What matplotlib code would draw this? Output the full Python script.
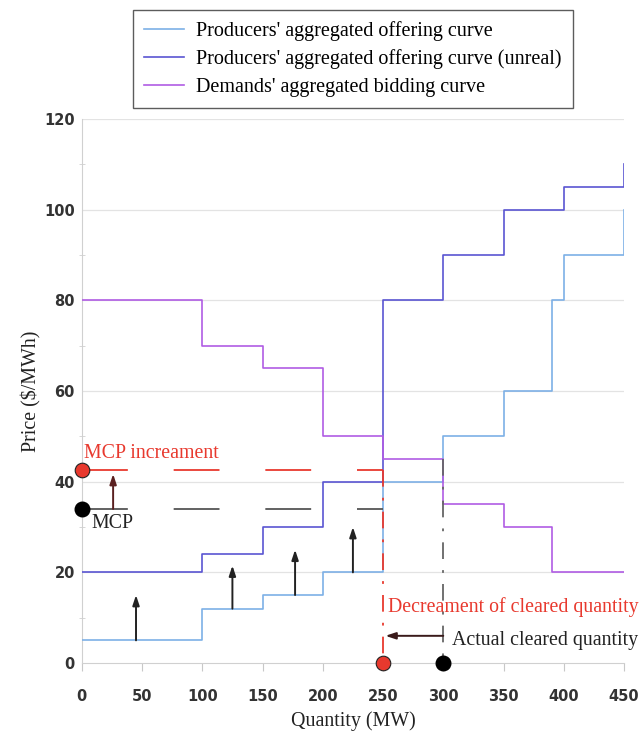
import matplotlib
matplotlib.use("Agg")
import matplotlib.pyplot as plt
from matplotlib.lines import Line2D

plt.rcParams['lines.scale_dashes'] = False

# ---- data ----
supply_x = [0, 100, 150, 200, 250, 300, 350, 390, 400, 450, 450]
supply_y = [5, 12, 15, 20, 40, 50, 60, 80, 90, 90, 100]

unreal_x = [0, 100, 150, 200, 250, 300, 350, 400, 450, 450]
unreal_y = [20, 24, 30, 40, 80, 90, 100, 105, 105, 110]

demand_x = [0, 100, 150, 200, 250, 300, 350, 390, 450]
demand_y = [80, 70, 65, 50, 45, 35, 30, 20, 20]

mcp = 34
mcp_new = 42.5
q_actual = 300
q_new = 250

shift_arrow_x = [45, 125, 177, 225]
shift_arrow_from = [5, 12, 15, 20]
shift_arrow_to = [15, 21.5, 25, 30]

x_ticks = [0, 50, 100, 150, 200, 250, 300, 350, 400, 450]
y_ticks = [0, 20, 40, 60, 80, 100, 120]

labels = ["Producers' aggregated offering curve",
          "Producers' aggregated offering curve (unreal)",
          "Demands' aggregated bidding curve"]

c_supply = "#7DB0E6"
c_unreal = "#5A55D2"
c_demand = "#B05CE4"
c_red = "#E8392E"

serif = ["Liberation Serif", "DejaVu Serif"]

fig = plt.figure(figsize=(6.44, 7.38), dpi=100)
ax = fig.add_axes([0.127, 0.1016, 0.842, 0.737])

ax.set_xlim(0, 450)
ax.set_ylim(0, 120)

for y in y_ticks[1:]:
    ax.axhline(y, color="#E3E3E3", lw=0.9, zorder=0)

l1, = ax.step(supply_x, supply_y, where='post', color=c_supply, lw=1.2, zorder=3)
l2, = ax.step(unreal_x, unreal_y, where='post', color=c_unreal, lw=1.2, zorder=3)
l3, = ax.step(demand_x, demand_y, where='post', color=c_demand, lw=1.2, zorder=3)

# MCP lines
ax.plot([0, q_new], [mcp, mcp], color="#555555", lw=1.3, dashes=(33, 33), zorder=4)
ax.plot([0, q_new], [mcp_new, mcp_new], color=c_red, lw=1.3, dashes=(33, 33), zorder=4)
ax.plot([q_new, q_new], [mcp_new, 0], color=c_red, lw=1.3, dashes=(12, 8, 2, 8), zorder=4)
ax.plot([q_actual, q_actual], [45, 0], color="#666666", lw=1.3, dashes=(12, 8, 2, 8), zorder=4)

# shift arrows
for xa, y0, y1 in zip(shift_arrow_x, shift_arrow_from, shift_arrow_to):
    ax.annotate("", xy=(xa, y1), xytext=(xa, y0),
                arrowprops=dict(arrowstyle="-|>,head_length=0.6,head_width=0.2",
                                color="#222222", lw=1.4, shrinkA=0, shrinkB=0), zorder=5)

ax.annotate("", xy=(26, mcp_new - 0.8), xytext=(26, mcp),
            arrowprops=dict(arrowstyle="-|>,head_length=0.6,head_width=0.2",
                            color="#5a2020", facecolor=c_red, lw=1.4, shrinkA=0, shrinkB=0), zorder=5)
ax.annotate("", xy=(252, 6), xytext=(q_actual, 6),
            arrowprops=dict(arrowstyle="-|>,head_length=0.6,head_width=0.2",
                            color="#3a1a1a", facecolor=c_red, lw=1.4, shrinkA=0, shrinkB=0), zorder=5)

# dots
ax.scatter([0], [mcp_new], s=110, color=c_red, edgecolor="#222222", lw=0.8, zorder=6, clip_on=False)
ax.scatter([0], [mcp], s=110, color="black", zorder=6, clip_on=False)
ax.scatter([q_new], [0], s=110, color=c_red, edgecolor="#222222", lw=0.8, zorder=6, clip_on=False)
ax.scatter([q_actual], [0], s=110, color="black", zorder=6, clip_on=False)

# texts
fs = 14.3
ax.text(2, 46.3, "MCP increament", color=c_red, fontsize=fs, family=serif, va='center', ha='left')
ax.text(8, 30.8, "MCP", color="#222222", fontsize=fs, family=serif, va='center', ha='left')
ax.text(254, 12.4, "Decreament of cleared quantity", color=c_red, fontsize=fs, family=serif,
        va='center', ha='left', clip_on=False)
ax.text(307, 4.9, "Actual cleared quantity", color="#222222", fontsize=fs, family=serif,
        va='center', ha='left', clip_on=False)

# axes styling
for s in ["top", "right"]:
    ax.spines[s].set_visible(False)
for s in ["left", "bottom"]:
    ax.spines[s].set_color("#D0D0D0")
ax.set_xticks(x_ticks)
ax.set_yticks(y_ticks)
ax.set_yticks([10, 30, 50, 70, 90, 110], minor=True)
ax.tick_params(axis='x', colors="#C8C8C8", length=6, labelcolor="#333333", labelsize=10.5, pad=13)
ax.tick_params(axis='y', which='major', length=0, labelcolor="#333333", labelsize=10.5, pad=5)
ax.tick_params(axis='y', which='minor', direction='inout', length=5, colors="#D0D0D0")
for lab in ax.get_xticklabels() + ax.get_yticklabels():
    lab.set_fontweight('semibold')

ax.set_xlabel("Quantity (MW)", fontsize=14.4, family=serif, color="#222222", labelpad=5)
ax.set_ylabel("Price ($/MWh)", fontsize=14.4, family=serif, color="#222222", labelpad=2)

leg_handles = [Line2D([], [], color=c, lw=1.2) for c in (c_supply, c_unreal, c_demand)]
leg = fig.legend(leg_handles, labels, loc='upper center', bbox_to_anchor=(0.548, 1.0),
                 prop={'family': serif, 'size': 14.5}, frameon=True, fancybox=False,
                 edgecolor="#333333", handlelength=2.0, borderpad=0.55, labelspacing=0.42,
                 handletextpad=0.6)
leg.get_frame().set_linewidth(1.0)

fig.savefig("out.png", dpi=100, facecolor="white")
